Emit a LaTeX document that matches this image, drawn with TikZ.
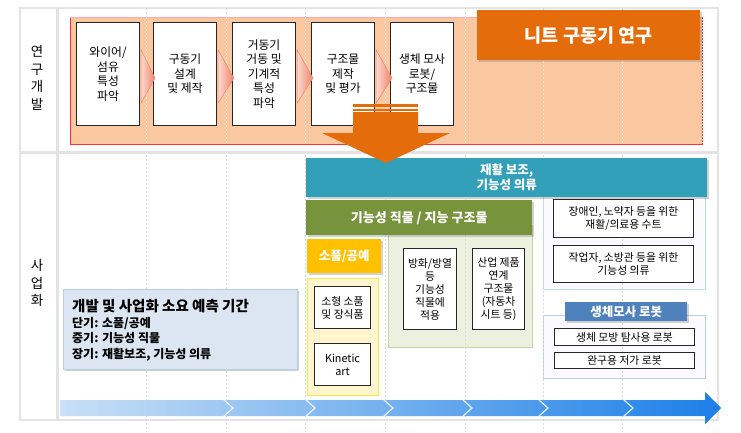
\documentclass[tikz,border=0pt]{standalone}
\usepackage{fontspec}
\setmainfont{Noto Sans CJK KR}
\usetikzlibrary{shadows,calc}
\definecolor{orng}{HTML}{E46C0A}
\definecolor{peach}{HTML}{FAC8A0}
\definecolor{tealbar}{HTML}{31A0B8}
\definecolor{olive}{HTML}{77933C}
\definecolor{gold}{HTML}{FFC000}
\definecolor{lyel}{HTML}{FFF6D0}
\definecolor{lyelb}{HTML}{FFE54D}
\definecolor{lgrn}{HTML}{EBF1DE}
\definecolor{lgrnb}{HTML}{C3D69B}
\definecolor{blabel}{HTML}{4F81BD}
\definecolor{lblue}{HTML}{DCE6F2}
\definecolor{lblueb}{HTML}{B9CDE5}
\definecolor{lcyanb}{HTML}{B7DDE8}
\definecolor{framec}{HTML}{E3E3E3}
\definecolor{gridc}{HTML}{D9D9D9}
\definecolor{chevL}{HTML}{FCD9CF}
\definecolor{chevR}{HTML}{EE8468}
\definecolor{tlL}{HTML}{C9E0F6}
\definecolor{tlR}{HTML}{1C7FE8}
\tikzset{
  procbox/.style={draw=black!85, line width=1.1pt, fill=white, minimum width=63pt, minimum height=103pt,
    anchor=north west, align=center, inner sep=1pt, font=\fontsize{11.8}{14.5}\selectfont},
  smallbox/.style={draw=black!85, line width=1pt, fill=white, anchor=north west, align=center,
    inner sep=1pt, font=\fontsize{10.8}{13}\selectfont},
  shad/.style={drop shadow={shadow xshift=1.8pt, shadow yshift=-1.8pt, opacity=0.35}},
  bar/.style={anchor=north west, align=center, text=white, inner sep=0pt,
    font=\bfseries\fontsize{12.5}{15}\selectfont},
  region/.style={anchor=north west, inner sep=0pt, line width=0.8pt},
  gridline/.style={gridc, line width=0.8pt, dash pattern=on 2pt off 2pt},
  lbl/.style={align=center, font=\fontsize{13.5}{17.5}\selectfont},
}
\begin{document}
\begin{tikzpicture}[x=1pt,y=-1pt]
\useasboundingbox (0,0) rectangle (741,432);
\fill[white] (0,0) rectangle (741,432);

% frame
\draw[framec, line width=1.5pt] (20,8) rectangle (718,420);
\draw[framec, line width=3pt] (57,8) -- (57,420);
\draw[framec, line width=3pt] (20,152) -- (718,152);

% left labels
\node[lbl] (lab1) at (37,78) {연\\구\\개\\발};
\node[lbl] (lab2) at (37,283) {사\\업\\화};

% research region
\node[region, fill=peach, minimum width=632pt, minimum height=127pt] (rr) at (70,17) {};
\draw[red!80, line width=1pt] (rr.north west) -- (rr.south west) -- (rr.south east);
\draw[red!35, line width=0.8pt] (rr.north west) -- (rr.north east);
\draw[red!80, line width=0.8pt, dash pattern=on 1.5pt off 1.5pt] (rr.north east) -- (rr.south east);

% business regions
\node[region, fill=lgrn, draw=lgrnb, minimum width=144pt, minimum height=122pt] (gr) at (388,225) {};
\node[region, fill=lyel, draw=lyelb, minimum width=71pt, minimum height=117pt] (yr) at (307,278) {};
\node[region, fill=blue!2, draw=lcyanb, minimum width=162pt, minimum height=99pt] (br1) at (543,190) {};
\node[region, fill=blue!2, draw=lblueb, minimum width=162pt, minimum height=63pt] (br2) at (543,315) {};

% grid lines
\foreach \gx in {146,226,305,385,465,543,622}{
  \draw[gridline] (\gx,8) -- (\gx,17);
  \draw[white, opacity=0.55, line width=0.8pt, dash pattern=on 2pt off 2pt] (\gx,17) -- (\gx,144);
  \draw[gridline] (\gx,155) -- (\gx,432);
}

% title
\node[bar, fill=orng, shad, minimum width=223pt, minimum height=50pt,
  font=\bfseries\fontsize{18.5}{20}\selectfont] (title) at (477,10) {니트 구동기 연구};

% process boxes
\node[procbox] (p1) at (76,22) {와이어/\\섬유\\특성\\파악};
\node[procbox] (p2) at (153,22) {구동기\\설계\\및 제작};
\node[procbox] (p3) at (232,22) {거동기\\거동 및\\기계적\\특성\\파악};
\node[procbox] (p4) at (311,22) {구조물\\제작\\및 평가};
\node[procbox] (p5) at (390,22) {생체 모사\\로봇/\\구조물};
\foreach \a/\b in {p1/p2,p2/p3,p3/p4,p4/p5}{
  \shade[left color=chevL, right color=chevR, draw=chevR, line width=0.5pt]
    ($(\a.east)+(1,-24)$) -- ($(\b.west)+(2,4)$) -- ($(\a.east)+(1,29)$) -- cycle;
}

% business bars
\node[bar, fill=tealbar, shad, minimum width=401pt, minimum height=39pt] (teal) at (306,158) {재활 보조,\\기능성 의류};
\node[bar, fill=olive, shad, minimum width=226pt, minimum height=35pt,
  font=\bfseries\fontsize{13}{15}\selectfont] (green) at (306,200) {기능성 직물 / 지능 구조물};
\node[bar, fill=gold, shad, minimum width=74pt, minimum height=34pt] (craft) at (307,239) {소품/공예};
\node[bar, fill=blabel, shad, minimum width=122pt, minimum height=19pt] (robot) at (565,302) {생체모사 로봇};

% orange down arrow
\fill[orng] (353,104) rectangle (418,106.5);
\fill[orng] (353,108.5) rectangle (418,110.5);
\fill[orng] (353,112) -- (418,112) -- (418,133) -- (450,133) -- (386,163) -- (322,133) -- (353,133) -- cycle;

% small boxes
\node[smallbox, minimum width=53pt, minimum height=81pt] (g1) at (403,248) {방화/방열\\등\\기능성\\직물에\\적용};
\node[smallbox, minimum width=52pt, minimum height=81pt] (g2) at (472,248) {산업 제품\\연계\\구조물\\(자동차\\시트 등)};
\node[smallbox, minimum width=56pt, minimum height=42pt] (y1) at (314,286) {소형 소품\\및 장식품};
\node[smallbox, minimum width=56pt, minimum height=42pt] (y2) at (314,343) {Kinetic\\art};
\node[smallbox, minimum width=140pt, minimum height=38pt] (b1) at (553,199) {장애인, 노약자 등을 위한\\재활/의료용 수트};
\node[smallbox, minimum width=140pt, minimum height=37pt] (b2) at (553,245) {작업자, 소방관 등을 위한\\기능성 의류};
\node[smallbox, minimum width=140pt, minimum height=17pt] (b3) at (554,328) {생체 모방 탐사용 로봇};
\node[smallbox, minimum width=140pt, minimum height=16pt] (b4) at (554,352) {완구용 저가 로봇};

% left info box
\node[region, fill=lblue, draw=lblueb, shad, minimum width=234pt, minimum height=80pt] (info) at (63,289) {};
\node[anchor=west, align=left, inner sep=0pt, font=\bfseries\fontsize{12}{15.5}\selectfont] (infot) at (72,330)
  {{\fontsize{14.5}{16}\selectfont 개발 및 사업화 소요 예측 기간}\\단기: 소품/공예\\중기: 기능성 직물\\장기: 재활보조, 기능성 의류};

% timeline arrow
\shade[left color=tlL, right color=tlR]
  (60,400) -- (705,400) -- (705,392) -- (721,408) -- (705,424) -- (705,416) -- (60,416) -- cycle;
\foreach \cx in {233,315,393,472,548,633}{
  \draw[white, opacity=0.85, line width=1.2pt] (\cx-9,400) -- (\cx,408) -- (\cx-9,416);
}
\end{tikzpicture}
\end{document}
